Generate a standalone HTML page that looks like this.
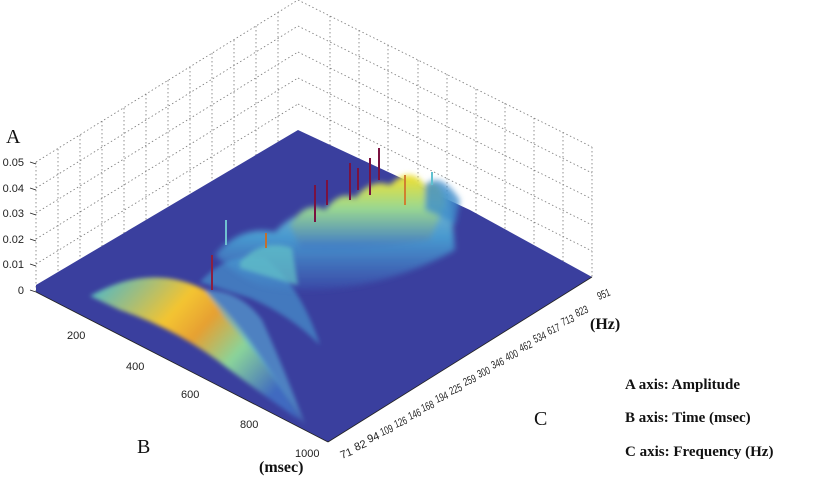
<!DOCTYPE html>
<html><head><style>
body{margin:0;background:#fff;width:820px;height:479px;overflow:hidden}
svg{display:block}
.t{font-family:"Liberation Sans",sans-serif;font-size:11px;fill:#222}
.s{font-family:"Liberation Serif",serif;fill:#111}
</style></head><body>
<svg width="820" height="479" viewBox="0 0 820 479">
<defs>
<filter id="b"><feGaussianBlur stdDeviation="3"/></filter>
<filter id="b2"><feGaussianBlur stdDeviation="2"/></filter>
<linearGradient id="h1" x1="0" y1="0" x2="1" y2="0.6">
<stop offset="0" stop-color="#3fb6d6"/><stop offset="0.4" stop-color="#f4c430"/><stop offset="0.55" stop-color="#e6a032"/><stop offset="0.75" stop-color="#8ad49a"/><stop offset="1" stop-color="#3f6ac0"/></linearGradient>
<linearGradient id="h2" x1="0" y1="0" x2="0" y2="1">
<stop offset="0" stop-color="#f2e030"/><stop offset="0.45" stop-color="#9ad890"/><stop offset="1" stop-color="#3d78c8"/></linearGradient>
<linearGradient id="h3" x1="0" y1="0" x2="0" y2="1">
<stop offset="0" stop-color="#a0e0d4"/><stop offset="0.5" stop-color="#4aa8d8"/><stop offset="1" stop-color="#3a4aa8"/></linearGradient>
</defs>
<g stroke="#777" stroke-width="0.8" stroke-dasharray="1.5,2.5" fill="none">
<line x1="36" y1="162" x2="298" y2="0"/><line x1="298" y1="0" x2="592" y2="147"/>
<line x1="592" y1="147" x2="592" y2="277"/><line x1="36" y1="162" x2="36" y2="292"/>
<line x1="36" y1="188" x2="298" y2="26"/><line x1="36" y1="213" x2="298" y2="52"/><line x1="36" y1="239" x2="298" y2="78"/><line x1="36" y1="264" x2="298" y2="104"/>
<line x1="298" y1="26" x2="592" y2="173"/><line x1="298" y1="52" x2="592" y2="199"/><line x1="298" y1="78" x2="592" y2="225"/><line x1="298" y1="104" x2="592" y2="251"/>
<line x1="58" y1="149" x2="58" y2="279"/><line x1="80" y1="135" x2="80" y2="265"/><line x1="102" y1="121" x2="102" y2="251"/><line x1="124" y1="108" x2="124" y2="238"/><line x1="146" y1="94" x2="146" y2="224"/><line x1="168" y1="80" x2="168" y2="210"/><line x1="190" y1="67" x2="190" y2="197"/><line x1="212" y1="53" x2="212" y2="183"/><line x1="234" y1="40" x2="234" y2="170"/><line x1="256" y1="26" x2="256" y2="156"/><line x1="278" y1="12" x2="278" y2="142"/>
<line x1="330" y1="16" x2="330" y2="146"/><line x1="359" y1="30" x2="359" y2="160"/><line x1="388" y1="45" x2="388" y2="175"/><line x1="418" y1="60" x2="418" y2="190"/><line x1="447" y1="74" x2="447" y2="204"/><line x1="476" y1="89" x2="476" y2="219"/><line x1="505" y1="103" x2="505" y2="233"/><line x1="534" y1="118" x2="534" y2="248"/><line x1="563" y1="132" x2="563" y2="262"/>
</g>
<polygon points="36,285 298,130 470,210 592,277 328,442 36,292" fill="#3a3f9e"/>
<g filter="url(#b)">
<path d="M215,255 Q240,225 275,232 Q300,205 330,215 Q360,190 400,195 Q430,175 450,195 L455,250 Q410,275 360,285 Q300,295 260,285 Q235,275 215,255 Z" fill="url(#h3)" opacity="0.85"/>
<path d="M290,225 Q305,200 325,210 Q340,190 355,198 Q372,178 390,185 Q410,165 425,185 Q440,175 445,205 L430,240 Q380,250 300,248 Z" fill="url(#h2)"/>
<path d="M425,185 Q440,170 460,200 L455,225 Q440,215 425,210 Z" fill="#3d8ccc" opacity="0.8"/>
</g>
<g filter="url(#b2)">
<path d="M90,296 Q150,262 205,290 Q250,330 300,420 Q270,400 230,370 Q180,330 120,310 Z" fill="url(#h1)"/>
<path d="M205,290 Q240,290 262,320 Q285,370 305,425 Q265,360 225,318 Z" fill="#5aaed8" opacity="0.6"/>
<path d="M200,282 Q230,250 265,258 Q300,285 320,345 Q290,315 250,298 Z" fill="#4a9ed4" opacity="0.6"/>
<path d="M240,262 Q262,238 292,248 L298,285 Q272,278 240,268Z" fill="#62c4c8" opacity="0.7"/>
</g>
<g stroke-width="2">
<line x1="315" y1="185" x2="315" y2="222" stroke="#7a1240"/><line x1="327" y1="180" x2="327" y2="205" stroke="#7a1240"/><line x1="350" y1="163" x2="350" y2="200" stroke="#7a1240"/><line x1="358" y1="168" x2="358" y2="190" stroke="#7a1240"/><line x1="370" y1="158" x2="370" y2="195" stroke="#7a1240"/><line x1="379" y1="148" x2="379" y2="180" stroke="#7a1240"/><line x1="212" y1="255" x2="212" y2="290" stroke="#8a2040"/><line x1="266" y1="233" x2="266" y2="248" stroke="#c07030"/><line x1="226" y1="220" x2="226" y2="245" stroke="#70c0d0"/><line x1="405" y1="175" x2="405" y2="205" stroke="#d08030"/><line x1="432" y1="172" x2="432" y2="185" stroke="#60c0d0"/>
</g>
<g stroke="#222" stroke-width="0.8">
<line x1="36" y1="292" x2="328" y2="442"/><line x1="328" y1="442" x2="592" y2="277"/>
<line x1="30" y1="162" x2="36" y2="164"/><line x1="30" y1="188" x2="36" y2="190"/><line x1="30" y1="213" x2="36" y2="215"/><line x1="30" y1="239" x2="36" y2="241"/><line x1="30" y1="264" x2="36" y2="266"/><line x1="30" y1="290" x2="36" y2="292"/>
</g>
<g class="t" text-anchor="end">
<text x="24" y="166">0.05</text><text x="24" y="192">0.04</text><text x="24" y="217">0.03</text><text x="24" y="243">0.02</text><text x="24" y="268">0.01</text><text x="24" y="294">0</text>
</g>
<g class="t">
<text x="67" y="339">200</text><text x="126" y="370">400</text><text x="181" y="398">600</text><text x="240" y="428">800</text><text x="295" y="457">1000</text>
</g>
<g class="t" font-size="9">
<text transform="translate(342,459) rotate(-22)">71</text>
<text transform="translate(356,451) rotate(-22)">82</text>
<text transform="translate(369,443) rotate(-22)">94</text>
<text transform="translate(382,436) rotate(-22)" textLength="13" lengthAdjust="spacingAndGlyphs">109</text>
<text transform="translate(396,428) rotate(-22)" textLength="13" lengthAdjust="spacingAndGlyphs">126</text>
<text transform="translate(410,420) rotate(-22)" textLength="13" lengthAdjust="spacingAndGlyphs">146</text>
<text transform="translate(423,412) rotate(-22)" textLength="13" lengthAdjust="spacingAndGlyphs">168</text>
<text transform="translate(437,403) rotate(-22)" textLength="13" lengthAdjust="spacingAndGlyphs">194</text>
<text transform="translate(451,395) rotate(-22)" textLength="13" lengthAdjust="spacingAndGlyphs">225</text>
<text transform="translate(465,386) rotate(-22)" textLength="13" lengthAdjust="spacingAndGlyphs">259</text>
<text transform="translate(479,378) rotate(-22)" textLength="13" lengthAdjust="spacingAndGlyphs">300</text>
<text transform="translate(493,369) rotate(-22)" textLength="13" lengthAdjust="spacingAndGlyphs">346</text>
<text transform="translate(507,361) rotate(-22)" textLength="13" lengthAdjust="spacingAndGlyphs">400</text>
<text transform="translate(521,352) rotate(-22)" textLength="13" lengthAdjust="spacingAndGlyphs">462</text>
<text transform="translate(535,343) rotate(-22)" textLength="13" lengthAdjust="spacingAndGlyphs">534</text>
<text transform="translate(549,335) rotate(-22)" textLength="13" lengthAdjust="spacingAndGlyphs">617</text>
<text transform="translate(563,326) rotate(-22)" textLength="13" lengthAdjust="spacingAndGlyphs">713</text>
<text transform="translate(577,317) rotate(-22)" textLength="13" lengthAdjust="spacingAndGlyphs">823</text>
<text transform="translate(599,300) rotate(-22)" textLength="13" lengthAdjust="spacingAndGlyphs">951</text>
</g>
<text class="s" x="6" y="143" font-size="20">A</text>
<text class="s" x="137" y="453" font-size="20">B</text>
<text class="s" x="534" y="425" font-size="20">C</text>
<text class="s" x="259" y="472" font-size="16" font-weight="bold">(msec)</text>
<text class="s" x="590" y="329" font-size="16" font-weight="bold">(Hz)</text>
<g class="s" font-size="15" font-weight="bold">
<text x="625" y="389">A axis: Amplitude</text>
<text x="625" y="422">B axis: Time (msec)</text>
<text x="625" y="456">C axis: Frequency (Hz)</text>
</g>
</svg>
</body></html>
